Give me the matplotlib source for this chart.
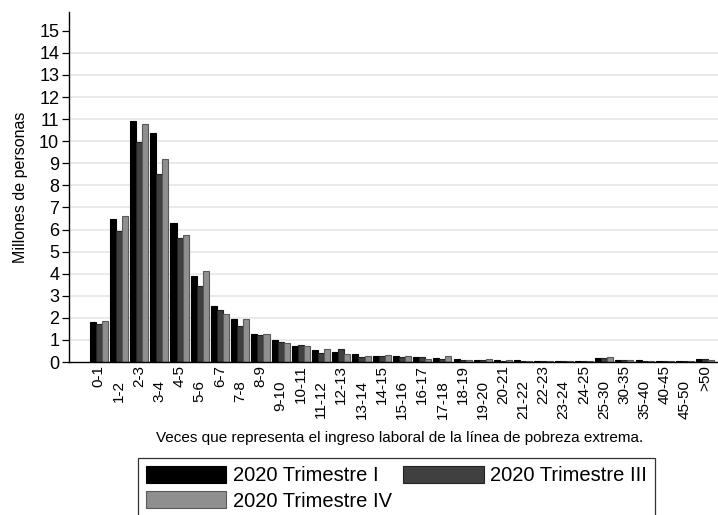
import numpy as np
import matplotlib
matplotlib.use('Agg')
import matplotlib.pyplot as plt

plt.rcParams['font.family'] = ['Liberation Sans', 'DejaVu Sans']

# ── Data (millions of people) ─────────────────────────────────────
categories = ['0-1', '1-2', '2-3', '3-4', '4-5', '5-6', '6-7', '7-8', '8-9',
              '9-10', '10-11', '11-12', '12-13', '13-14', '14-15', '15-16',
              '16-17', '17-18', '18-19', '19-20', '20-21', '21-22', '22-23',
              '23-24', '24-25', '25-30', '30-35', '35-40', '40-45', '45-50',
              '>50']

trim_1 = [1.82, 6.48, 10.93, 10.39, 6.31, 3.91, 2.55, 1.95, 1.28,
          0.98, 0.71, 0.53, 0.47, 0.35, 0.27, 0.26, 0.21, 0.20, 0.12,
          0.10, 0.08, 0.07, 0.05, 0.04, 0.05, 0.17, 0.10, 0.07, 0.04,
          0.03, 0.12]
trim_3 = [1.72, 5.94, 9.95, 8.50, 5.63, 3.44, 2.36, 1.62, 1.22,
          0.92, 0.76, 0.39, 0.60, 0.23, 0.27, 0.24, 0.23, 0.15, 0.10,
          0.08, 0.06, 0.06, 0.04, 0.03, 0.04, 0.17, 0.08, 0.06, 0.03,
          0.03, 0.12]
trim_4 = [1.87, 6.62, 10.80, 9.20, 5.75, 4.11, 2.19, 1.95, 1.27,
          0.86, 0.71, 0.59, 0.36, 0.27, 0.30, 0.27, 0.14, 0.28, 0.08,
          0.15, 0.10, 0.05, 0.03, 0.06, 0.06, 0.24, 0.09, 0.06, 0.04,
          0.04, 0.10]

series = [
    ('2020 Trimestre I',   trim_1, '#000000', '#000000'),
    ('2020 Trimestre III', trim_3, '#404040', '#222222'),
    ('2020 Trimestre IV',  trim_4, '#8f8f8f', '#5a5a5a'),
]

fig = plt.figure(figsize=(7.18, 5.15), dpi=100)
ax = fig.add_axes([0.096, 0.297, 0.904, 0.680])

x = np.arange(len(categories))
bw = 0.30
bars = []
for k, (name, vals, fc, ec) in enumerate(series):
    b = ax.bar(x + (k - 1) * bw, vals, width=bw, color=fc, edgecolor=ec,
               linewidth=0.8, label=name, zorder=2)
    bars.append(b)

# ── Grid / axes ───────────────────────────────────────────────────
for yv in range(1, 15):
    ax.axhline(yv, color='#e8e8e8', linewidth=1.3, zorder=0)

ax.set_ylim(0, 15.86)
ax.set_xlim(-1.47, len(categories) - 1 + 0.63)
ax.set_yticks(range(0, 16))
ax.tick_params(axis='y', labelsize=13, length=5, width=0.9, pad=2)
ax.set_ylabel('Millones de personas', fontsize=11.5, labelpad=8)

# alternating (staggered) category labels
ax.set_xticks(x)
ax.set_xticklabels(categories, rotation=90, fontsize=11, va='top',
                   ha='center')
ax.tick_params(axis='x', length=0)
for i, t in enumerate(ax.xaxis.get_major_ticks()):
    t.set_pad(13 if i % 2 == 1 else 2.2)

for s in ['top', 'right']:
    ax.spines[s].set_visible(False)
ax.spines['left'].set_linewidth(1.0)
ax.spines['bottom'].set_linewidth(1.0)

fig.text(0.556, 0.149,
         'Veces que representa el ingreso laboral de la línea de pobreza extrema.',
         ha='center', va='center', fontsize=11)

# row-wise order: I, III / IV
handles = [bars[0], bars[2], bars[1]]
labels = [series[0][0], series[2][0], series[1][0]]
leg = fig.legend(handles, labels, loc='upper left',
                 bbox_to_anchor=(0.192, 0.111, 0.72, 0),
                 mode='expand', ncol=2, fontsize=14.5, frameon=True,
                 fancybox=False, edgecolor='black', handlelength=4.0,
                 handleheight=0.9, handletextpad=0.3, borderpad=0.4,
                 labelspacing=0.3, borderaxespad=0)
leg.get_frame().set_linewidth(0.9)

fig.savefig('out.png', dpi=100)
